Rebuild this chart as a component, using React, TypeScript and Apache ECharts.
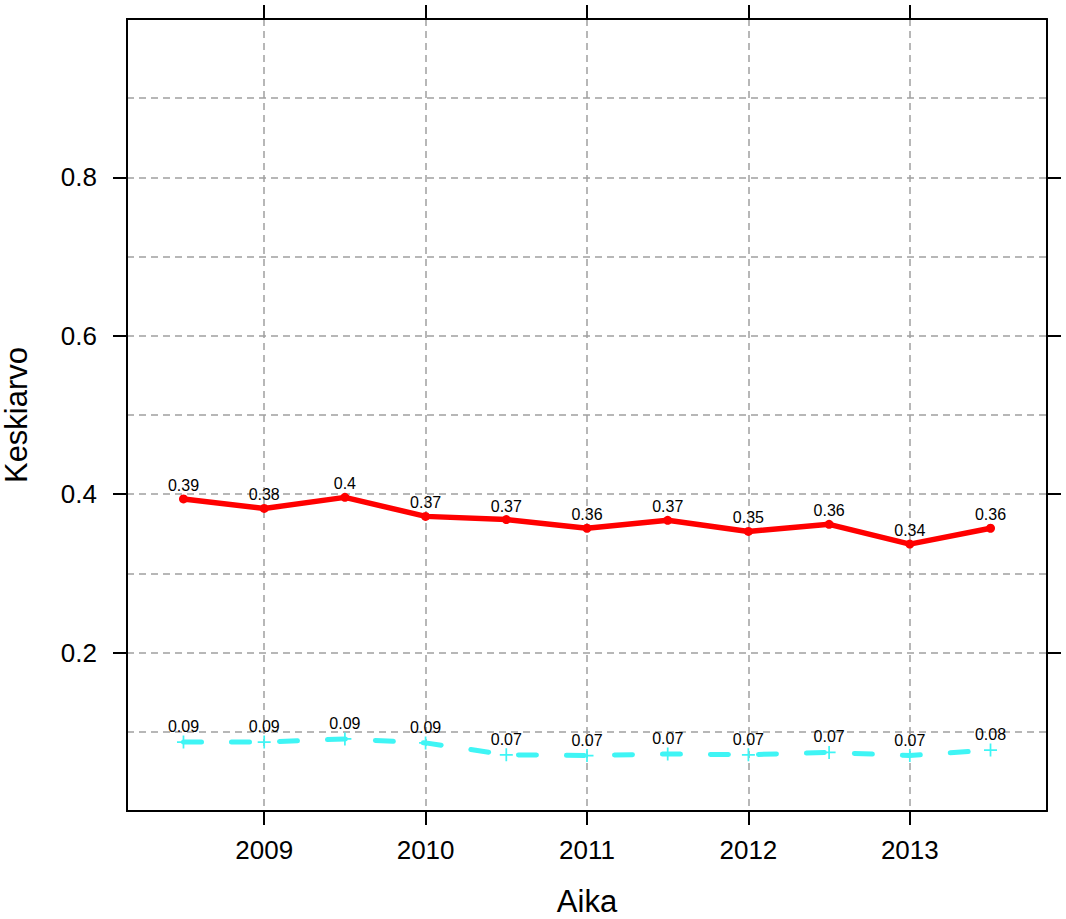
import React, { useEffect, useRef } from 'react';
import * as echarts from 'echarts';

const xPositions = [2008.5, 2009, 2009.5, 2010, 2010.5, 2011, 2011.5, 2012, 2012.5, 2013, 2013.5];
const redValues = [0.394, 0.382, 0.396, 0.372, 0.368, 0.357, 0.367, 0.353, 0.362, 0.337, 0.357];
const cyanValues = [0.087, 0.087, 0.091, 0.086, 0.071, 0.070, 0.072, 0.071, 0.074, 0.070, 0.077];
const yearTicks = [2009, 2010, 2011, 2012, 2013];
const yTicks = [0.2, 0.4, 0.6, 0.8];
const xTitle = 'Aika';
const yTitle = 'Keskiarvo';

const FONT = '"Liberation Sans", Arial, Helvetica, sans-serif';
const PLUS = 'path://M5.2,0H6.8V5.2H12V6.8H6.8V12H5.2V6.8H0V5.2H5.2Z';

export default function App() {
  const ref = useRef<HTMLDivElement>(null);
  useEffect(() => {
    if (!ref.current) return;
    const chart = echarts.init(ref.current, undefined, { renderer: 'svg' });
    const fmt = (p: any) => String(Number(Number(p.value[1]).toFixed(2)));
    const axisLine = { show: true, onZero: false, lineStyle: { color: '#000', width: 2 } };
    const gridLine = { show: true, lineStyle: { color: '#a0a0a0', width: 1.5, type: [7, 5] } };
    const tick = (vals: number[]) => ({ show: true, inside: false, length: 14, customValues: vals, lineStyle: { color: '#000', width: 2 } });
    const option: any = {
      animation: false,
      textStyle: { fontFamily: FONT },
      grid: { left: 127, right: 19, top: 19, bottom: 108, containLabel: false, outerBoundsMode: 'none' },
      xAxis: [
        {
          type: 'value', position: 'bottom', min: 2008.15, max: 2013.85, splitNumber: 5,
          name: xTitle, nameLocation: 'middle', nameGap: 75,
          nameTextStyle: { fontSize: 31, color: '#000', fontFamily: FONT },
          axisLine,
          axisTick: tick(yearTicks),
          axisLabel: { show: true, customValues: yearTicks, fontSize: 26, color: '#000', margin: 26, fontFamily: FONT, formatter: (v: number) => String(v) },
          splitLine: gridLine,
        },
        {
          type: 'value', position: 'top', min: 2008.15, max: 2013.85, splitNumber: 5,
          axisLine,
          axisTick: tick(yearTicks),
          axisLabel: { show: false },
          splitLine: { show: false },
        },
      ],
      yAxis: [
        {
          type: 'value', position: 'left', min: 0, max: 1, interval: 0.1,
          name: yTitle, nameLocation: 'middle', nameGap: 95, nameRotate: 90,
          nameTextStyle: { fontSize: 31, color: '#000', fontFamily: FONT },
          axisLine,
          axisTick: { show: false },
          axisLabel: { show: true, customValues: yTicks, fontSize: 26, color: '#000', margin: 30, fontFamily: FONT, formatter: (v: number) => String(v) },
          splitLine: gridLine,
        },
        {
          type: 'value', position: 'left', offset: 0, min: 0, max: 1, interval: 0.1,
          axisLine,
          axisTick: tick(yTicks),
          axisLabel: { show: false },
          splitLine: { show: false },
        },
        {
          type: 'value', position: 'right', offset: 0, min: 0, max: 1, interval: 0.1,
          axisLine,
          axisTick: tick(yTicks),
          axisLabel: { show: false },
          splitLine: { show: false },
        },
      ],
      series: [
        {
          type: 'line',
          xAxisIndex: 0, yAxisIndex: 0,
          data: xPositions.map((x, i) => [x, cyanValues[i]]),
          symbol: PLUS, symbolSize: 13,
          itemStyle: { color: '#3ff5f5' },
          lineStyle: { color: '#3ff5f5', width: 5, type: [18, 30], cap: 'round' },
          label: { show: true, position: 'top', distance: 1, fontSize: 16, color: '#000', fontFamily: FONT, formatter: fmt },
          z: 3,
        },
        {
          type: 'line',
          xAxisIndex: 0, yAxisIndex: 0,
          data: xPositions.map((x, i) => [x, redValues[i]]),
          symbol: 'circle', symbolSize: 9,
          itemStyle: { color: '#ff0000' },
          lineStyle: { color: '#ff0000', width: 5.5 },
          label: { show: true, position: 'top', distance: 1, fontSize: 16, color: '#000', fontFamily: FONT, formatter: fmt },
          z: 4,
        },
      ],
    };
    chart.setOption(option);
    return () => chart.dispose();
  }, []);
  return <div ref={ref} style={{ position: 'absolute', left: 0, top: 0, width: 1066, height: 919 }} />;
}
